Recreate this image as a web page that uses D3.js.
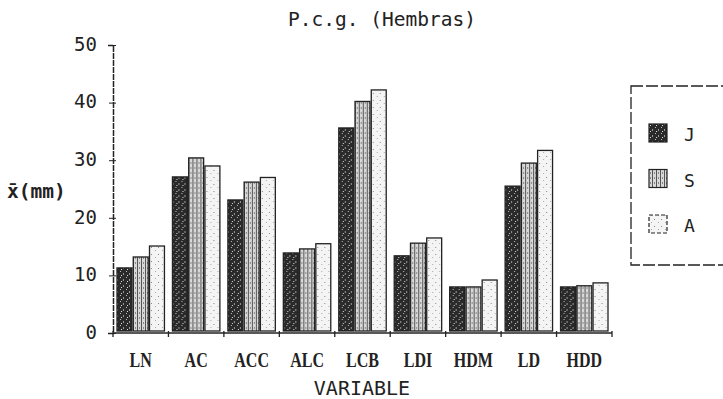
<!DOCTYPE html>
<html><head><meta charset="utf-8">
<script src="https://cdn.jsdelivr.net/npm/d3@7"></script>
<style>body{margin:0;background:#fff}svg{display:block}</style>
</head><body>
<script>
const categories = ["LN","AC","ACC","ALC","LCB","LDI","HDM","LD","HDD"];
const seriesNames = ["J","S","A"];
const valuesJ = [11.3, 27.1, 23.1, 13.9, 35.6, 13.4, 8.0, 25.5, 8.0];
const valuesS = [13.2, 30.4, 26.2, 14.6, 40.2, 15.6, 8.0, 29.5, 8.2];
const valuesA = [15.1, 29.0, 27.0, 15.5, 42.2, 16.5, 9.2, 31.7, 8.7];
const yTicks = [0,10,20,30,40,50];
const yTickLabels = ["0","10","20","30","40","50"];
const title = "P.c.g. (Hembras)";
const xTitle = "VARIABLE";
const yTitle = "x\u0304(mm)";

const W = 723, H = 399;
const svg = d3.select("body").append("svg").attr("width", W).attr("height", H);
const defs = svg.append("defs");

// patterns
const pJ = defs.append("pattern").attr("id","pJ").attr("patternUnits","userSpaceOnUse").attr("width",6).attr("height",6);
pJ.append("rect").attr("width",6).attr("height",6).attr("fill","#2a2a2a");
pJ.append("rect").attr("x",1).attr("y",1).attr("width",1).attr("height",1).attr("fill","#bbb");
pJ.append("rect").attr("x",4).attr("y",3).attr("width",1).attr("height",2).attr("fill","#999");
pJ.append("rect").attr("x",2).attr("y",5).attr("width",1).attr("height",1).attr("fill","#ddd");
const pS = defs.append("pattern").attr("id","pS").attr("patternUnits","userSpaceOnUse").attr("width",4).attr("height",5);
pS.append("rect").attr("width",4).attr("height",5).attr("fill","#d8d8d8");
pS.append("rect").attr("x",0).attr("width",1).attr("height",5).attr("fill","#555");
pS.append("rect").attr("x",2).attr("y",2).attr("width",1).attr("height",2).attr("fill","#888");
const pA = defs.append("pattern").attr("id","pA").attr("patternUnits","userSpaceOnUse").attr("width",7).attr("height",7);
pA.append("rect").attr("width",7).attr("height",7).attr("fill","#f4f4f4");
pA.append("rect").attr("x",3).attr("y",2).attr("width",1).attr("height",1).attr("fill","#888");
pA.append("rect").attr("x",0).attr("y",5).attr("width",1).attr("height",1).attr("fill","#aaa");

const fills = {J:"url(#pJ)", S:"url(#pS)", A:"url(#pA)"};
const data = categories.map((c,i)=>({cat:c, J:valuesJ[i], S:valuesS[i], A:valuesA[i]}));

const x0 = d3.scaleBand().domain(categories).range([113, 612]).padding(0);
const x1 = d3.scaleBand().domain(seriesNames).range([4, x0.bandwidth()-4]).paddingInner(0.08);
const y = d3.scaleLinear().domain([0,50]).range([333, 45]);

// bars
const g = svg.append("g");
g.selectAll("g.grp").data(data).join("g").attr("class","grp")
  .attr("transform", d=>`translate(${x0(d.cat)},0)`)
  .selectAll("rect").data(d=>seriesNames.map(k=>({k, v:d[k]}))).join("rect")
  .attr("x", d=>x1(d.k)).attr("width", x1.bandwidth())
  .attr("y", d=>y(d.v)).attr("height", d=>y(0)-2-y(d.v))
  .attr("fill", d=>fills[d.k]).attr("stroke","#222").attr("stroke-width",1.3);

// y axis
const yAxis = d3.axisLeft(y).tickValues(yTicks).tickFormat((d,i)=>yTickLabels[i]).tickSize(5).tickPadding(11);
const ya = svg.append("g").attr("transform","translate(113,0)").call(yAxis);
ya.select(".domain").attr("stroke","#222").attr("stroke-width",1.5).attr("stroke-dasharray","6,1");
ya.selectAll(".tick line").attr("stroke","#222").attr("x2",-4).attr("x1",3);
ya.selectAll(".tick text").attr("font-family","DejaVu Sans Mono").attr("font-size",19).attr("fill","#222").attr("dy","0.28em");

// x axis
const xa = svg.append("g").attr("transform","translate(0,333)");
xa.append("line").attr("x1",113).attr("x2",612).attr("stroke","#222").attr("stroke-width",1.5);
xa.selectAll("line.t").data(categories.concat(["end"])).join("line").attr("class","t")
  .attr("x1",(d,i)=> i<categories.length ? x0(d) : x0.range()[1])
  .attr("x2",(d,i)=> i<categories.length ? x0(d) : x0.range()[1])
  .attr("y1",-2).attr("y2",4).attr("stroke","#222").attr("stroke-width",1.3);
xa.selectAll("text").data(categories).join("text")
  .attr("transform", d=>`translate(${x0(d)+x0.bandwidth()/2},34) scale(0.8,1)`)
  .attr("text-anchor","middle").attr("font-family","Liberation Serif").attr("font-size",20).attr("font-weight","bold").attr("fill","#222")
  .text(d=>d);

// titles
svg.append("text").attr("x",382).attr("y",26).attr("text-anchor","middle")
  .attr("font-family","DejaVu Sans Mono").attr("font-size",19.5).attr("fill","#222").text(title);
svg.append("text").attr("x",362).attr("y",395).attr("text-anchor","middle")
  .attr("font-family","DejaVu Sans Mono").attr("font-size",20).attr("fill","#222").text(xTitle);
svg.append("text").attr("x",7).attr("y",198)
  .attr("font-family","DejaVu Sans Mono").attr("font-size",19.5).attr("font-weight","bold").attr("fill","#222").text(yTitle);

// legend
const lg = svg.append("g");
lg.append("rect").attr("x",631).attr("y",86).attr("width",110).attr("height",179)
  .attr("fill","none").attr("stroke","#222").attr("stroke-width",1.3).attr("stroke-dasharray","12,3");
const ly = d3.scalePoint().domain(seriesNames).range([133, 224]);
seriesNames.forEach(k=>{
  lg.append("rect").attr("x",649).attr("y",ly(k)-9).attr("width",18).attr("height",18)
    .attr("fill",fills[k]).attr("stroke","#222").attr("stroke-width",1.2).attr("stroke-dasharray", k==="A"?"4,2":null);
  lg.append("text").attr("x",684).attr("y",ly(k)+8).attr("font-family","DejaVu Sans Mono").attr("font-size",18)
    .attr("fill","#222").text(k);
});
</script>
</body></html>
